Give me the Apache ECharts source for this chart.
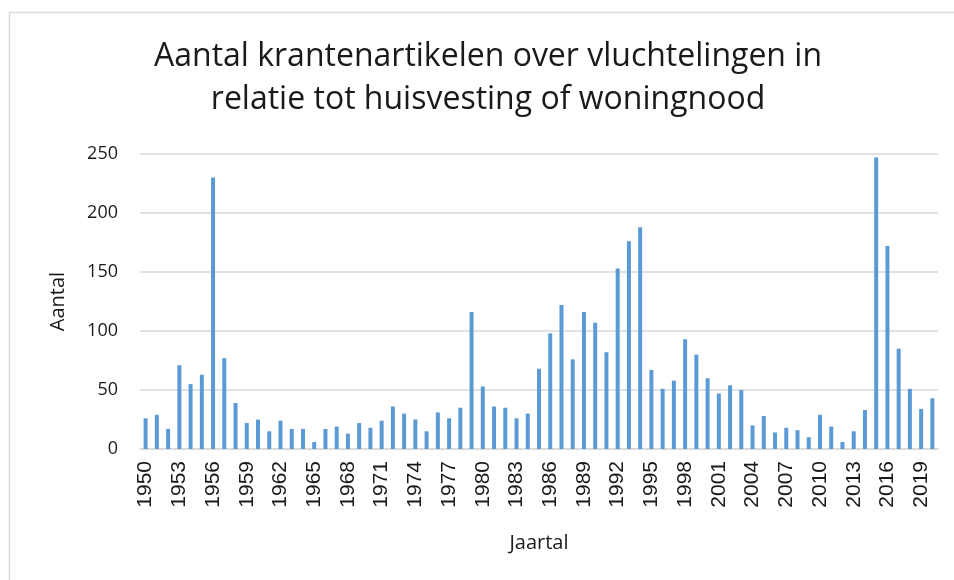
<!DOCTYPE html>
<html>
<head>
<meta charset="utf-8">
<script src="https://cdn.jsdelivr.net/npm/echarts@6/dist/echarts.min.js"></script>
<style>html,body{margin:0;padding:0;background:#fff}#c{width:954px;height:580px}</style>
</head>
<body>
<div id="c"></div>
<script>
const years = [];
for (let y = 1950; y <= 2020; y++) years.push(String(y));
const counts = [
  26, 29, 17, 71, 55, 63, 230, 77, 39, 22,
  25, 15, 24, 17, 17, 6, 17, 19, 13, 22,
  18, 24, 36, 30, 25, 15, 31, 26, 35, 116,
  53, 36, 35, 26, 30, 68, 98, 122, 76, 116,
  107, 82, 153, 176, 188, 67, 51, 58, 93, 80,
  60, 47, 54, 50, 20, 28, 14, 18, 16, 10,
  29, 19, 6, 15, 33, 247, 172, 85, 51, 34, 43
];
const titleLines = ['Aantal krantenartikelen over vluchtelingen in', 'relatie tot huisvesting of woningnood'];
const yName = 'Aantal';
const xName = 'Jaartal';

const chart = echarts.init(document.getElementById('c'), null, {renderer: 'canvas'});
chart.setOption({
  animation: false,
  backgroundColor: '#fff',
  graphic: [{
    type: 'rect', left: 7, top: 10, shape: {width: 1000, height: 1000},
    style: {fill: 'none', stroke: '#d9d9d9', lineWidth: 1.5}, silent: true, z: -1
  }, {
    type: 'text', x: 488, y: 57,
    style: {text: titleLines[0], fontFamily: 'Open Sans', fontSize: 32, fill: '#1a1a1a', align: 'center', verticalAlign: 'middle'}
  }, {
    type: 'text', x: 488, y: 100,
    style: {text: titleLines[1], fontFamily: 'Open Sans', fontSize: 32, fill: '#1a1a1a', align: 'center', verticalAlign: 'middle'}
  }],
  grid: {left: 140, right: 16, top: 154, bottom: 131},
  xAxis: {
    type: 'category', data: years,
    name: xName, nameLocation: 'middle', nameGap: 84,
    nameTextStyle: {fontFamily: 'Open Sans', fontSize: 20, color: '#1a1a1a'},
    axisLine: {lineStyle: {color: '#d9d9d9', width: 1.5}},
    axisTick: {show: false},
    axisLabel: {interval: 2, rotate: 90, margin: 12, fontFamily: 'Liberation Sans', fontSize: 21, color: '#1a1a1a'}
  },
  yAxis: {
    type: 'value', min: 0, max: 250, interval: 50,
    name: yName, nameLocation: 'middle', nameGap: 72,
    nameTextStyle: {fontFamily: 'Open Sans', fontSize: 20, color: '#1a1a1a'},
    axisLine: {show: false}, axisTick: {show: false},
    axisLabel: {margin: 22, fontFamily: 'Open Sans', fontSize: 18, color: '#1a1a1a'},
    splitLine: {lineStyle: {color: '#d9d9d9', width: 1.5}}
  },
  series: [{
    type: 'bar', data: counts, barWidth: 4,
    itemStyle: {color: '#5b9bd5'}
  }]
});
</script>
</body>
</html>
